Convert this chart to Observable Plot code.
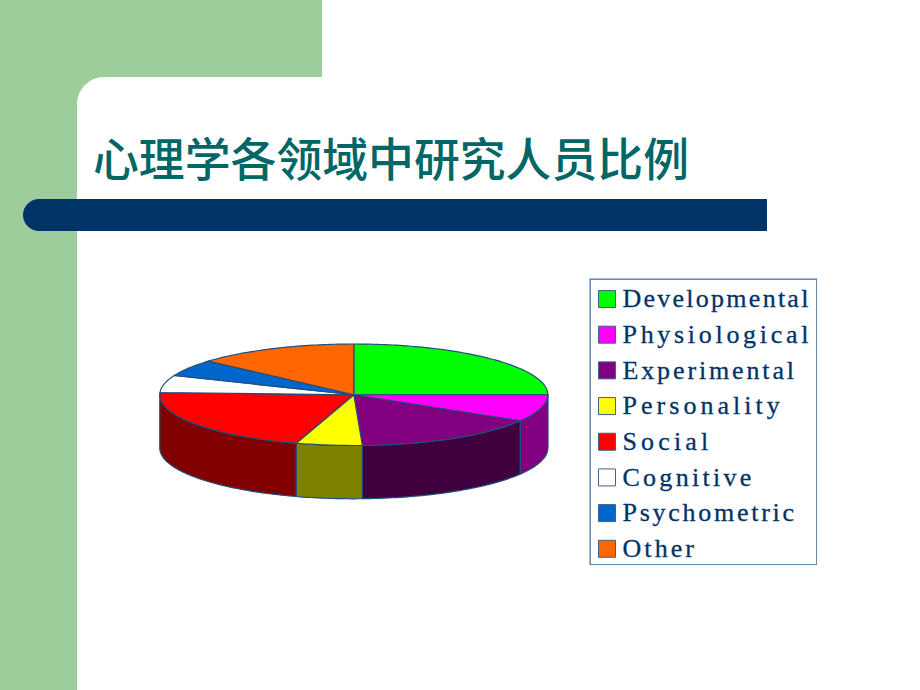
<!DOCTYPE html>
<html lang="zh">
<head>
<meta charset="utf-8">
<script src="https://cdn.jsdelivr.net/npm/d3@7"></script>
<script src="https://cdn.jsdelivr.net/npm/@observablehq/plot@0.6"></script>
<style>
  html, body { margin: 0; padding: 0; background: #fff; }
  #slide { position: relative; width: 920px; height: 690px; overflow: hidden; background: #fff; }
  .band { position: absolute; background: #9ccd9a; }
  #top { left: 0; top: 0; width: 322px; height: 77px; }
  #side { left: 0; top: 0; width: 77px; height: 690px; }
  #notch { left: 77px; top: 77px; width: 30px; height: 30px; }
  #notch div { width: 100%; height: 100%; background: #fff; border-top-left-radius: 27px; }
  #rule { position: absolute; left: 23px; top: 199px; width: 744px; height: 32px; background: #003366; border-radius: 16px 0 0 16px; }
  #title { position: absolute; left: 93px; top: 126px; margin: 0; font: 500 45.85px/60px "Noto Sans CJK SC", sans-serif; color: #006666; white-space: nowrap; }
  #pie { position: absolute; left: 150px; top: 335px; }
  #legend { position: absolute; left: 589px; top: 278px; }
  svg { display: block; background: transparent; }
</style>
</head>
<body>
<div id="slide">
  <div class="band" id="top"></div>
  <div class="band" id="side"></div>
  <div class="band" id="notch"><div></div></div>
  <div id="rule"></div>
  <h1 id="title">心理学各领域中研究人员比例</h1>
  <div id="pie"></div>
  <div id="legend"></div>
</div>
<script>
const categories = ["Developmental", "Physiological", "Experimental", "Personality", "Social", "Cognitive", "Psychometric", "Other"];
const shares = [25, 8.6, 15.7, 5.5, 20.9, 5.5, 5.3, 13.5];
const topColors = ["#00ff00", "#ff00ff", "#800080", "#ffff00", "#ff0000", "#ffffff", "#0066cc", "#ff6600"];
const sideColors = ["#008000", "#800080", "#400040", "#808000", "#800000", "#808080", "#003366", "#803300"];

const outline = "#1f4e79";
const thickness = 1.05; // pie depth, in units of the flattened radius
const total = d3.sum(shares);
const turn = 2 * Math.PI;

// Slices run clockwise from 12 o'clock
let running = 0;
const slices = categories.map((name, i) => {
  const a0 = running / total * turn - Math.PI / 2;
  running += shares[i];
  const a1 = running / total * turn - Math.PI / 2;
  return {name, i, a0, a1};
});

function arc(a0, a1) {
  const n = Math.max(2, Math.ceil((a1 - a0) / 0.02));
  return d3.range(n + 1).map(k => {
    const a = a0 + (a1 - a0) * k / n;
    return [Math.cos(a), Math.sin(a)];
  });
}

const sidePts = [], topPts = [];
for (const s of slices) {
  // top face: wedge from the centre
  const wedge = [[0, 0], ...arc(s.a0, s.a1), [0, 0]];
  for (const [x, y] of wedge) topPts.push({key: s.name, color: topColors[s.i], x, y});
  // wall: only the part of the rim facing the viewer (angles 0..pi, screen y down)
  const lo = Math.max(s.a0, 0), hi = Math.min(s.a1, Math.PI);
  if (hi > lo) {
    const rim = arc(lo, hi);
    const wall = [...rim, ...rim.slice().reverse().map(([x, y]) => [x, y + thickness]), rim[0]];
    for (const [x, y] of wall) sidePts.push({key: s.name, color: sideColors[s.i], x, y});
  }
}

const pie = Plot.plot({
  width: 410, height: 170, margin: 0,
  x: {domain: [-1, 1], range: [9.3, 397.3], axis: null},
  y: {domain: [-1, 1], range: [8.5, 110], axis: null},
  color: {type: "identity"},
  marks: [
    Plot.line(sidePts, {x: "x", y: "y", z: "key", fill: "color", stroke: outline, strokeWidth: 1.2}),
    Plot.line(topPts, {x: "x", y: "y", z: "key", fill: "color", stroke: outline, strokeWidth: 1.2})
  ]
});
document.getElementById("pie").append(pie);

const legend = Plot.plot({
  width: 228, height: 287, margin: 0,
  y: {domain: categories, type: "point", padding: 0, round: false, range: [20.5, 270.3], axis: null},
  color: {domain: categories, range: topColors},
  marks: [
    Plot.frame({stroke: "#4f739b", strokeWidth: 1.3, inset: 0.7}),
    Plot.dot(categories, {y: d => d, frameAnchor: "left", dx: 17.5, symbol: "square", r: 9.6, fill: d => d, stroke: "#3f6288", strokeWidth: 1}),
    Plot.text(categories, {y: d => d, text: d => d, frameAnchor: "left", dx: 33, textAnchor: "start", className: "legend-label", fill: "#003366", stroke: "#003366", strokeWidth: 0.3, fontSize: 26, fontFamily: "Liberation Serif"})
  ]
});
document.getElementById("legend").append(legend);

// The reference's labels have evenly pitched characters
d3.select(legend).selectAll(".legend-label text")
  .attr("textLength", function () { return this.textContent.length * 14.3; })
  .attr("lengthAdjust", "spacing");
</script>
</body>
</html>
